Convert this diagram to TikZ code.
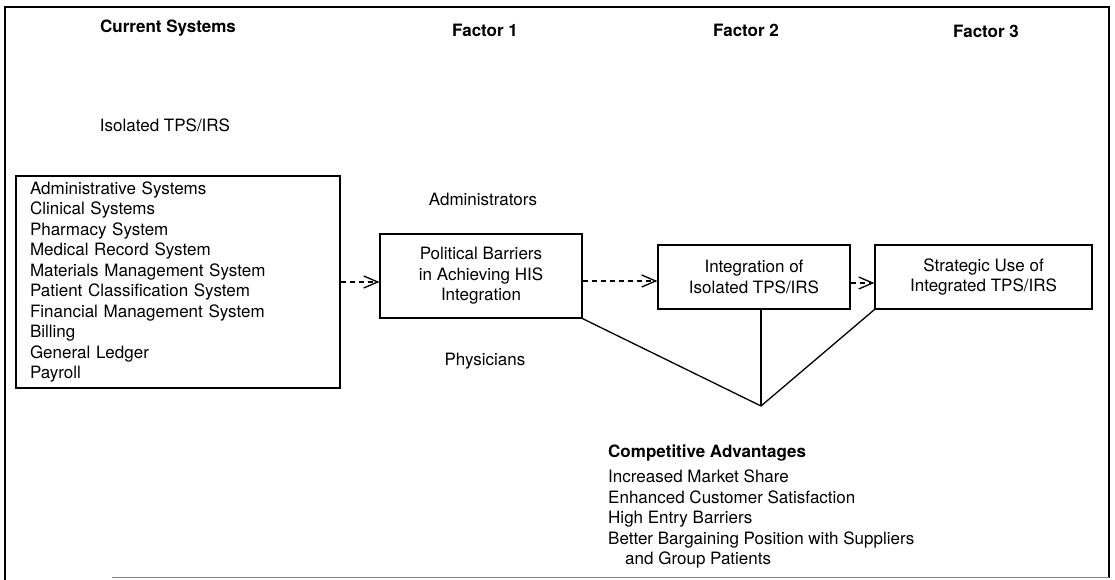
\documentclass[tikz,border=0pt]{standalone}
\usepackage{fontspec}
\setmainfont{TeX Gyre Heros}
\usetikzlibrary{arrows.meta}
\begin{document}
\begin{tikzpicture}[x=1pt,y=-1pt,
  every node/.style={font=\fontsize{17}{20.5}\selectfont, inner sep=0pt},
  hdr/.style={font=\fontsize{17}{20.5}\selectfont\bfseries},
  box/.style={draw, line width=1.3pt, align=center},
  flow/.style={line width=1.3pt, dash pattern=on 5pt off 4pt, -{Straight Barb[length=14pt,width=12pt]}},
  link/.style={line width=1.3pt}]
\useasboundingbox (0,0) rectangle (1115,580);
% frame
\draw[line width=2pt] (1109,578) -- (1109,7) -- (5,7) -- (5,580);
\draw[line width=1pt, gray] (112,577) -- (1109,577);
% headers
\node[hdr] (hcur) at (168,28) {Current Systems};
\node[hdr] (hf1) at (485,30) {Factor 1};
\node[hdr] (hf2) at (746,30) {Factor 2};
\node[hdr] (hf3) at (986,31) {Factor 3};
% labels
\node (iso) at (165,125) {Isolated TPS/IRS};
\node (adm) at (483,199) {Administrators};
\node (phy) at (485,361) {Physicians};
% boxes
\node[box, align=left, text width=296pt, inner xsep=14pt, minimum height=212pt] (cur) at (178,282)
  {Administrative Systems\\Clinical Systems\\Pharmacy System\\Medical Record System\\Materials Management System\\Patient Classification System\\Financial Management System\\Billing\\General Ledger\\Payroll};
\node[box, minimum width=202pt, minimum height=84pt] (pol) at (481,276)
  {Political Barriers\\in Achieving HIS\\Integration};
\node[box, minimum width=192pt, minimum height=64pt] (int) at (754,277)
  {Integration of\\Isolated TPS/IRS};
\node[box, minimum width=217pt, minimum height=64pt] (str) at (983.5,277)
  {Strategic Use of\\Integrated TPS/IRS};
% arrows
\coordinate (a1) at ([yshift=-5pt]pol.east);
\coordinate (a2) at ([yshift=-6pt]int.east);
\draw[flow] (cur.east) -- (cur.east -| pol.west);
\draw[flow] (a1) -- (a1 -| int.west);
\draw[flow] (a2) -- (a2 -| str.west);
% convergence
\coordinate (v) at (761,406);
\draw[link] (pol.south east) -- (v) -- (str.south west);
\draw[link] (int.south -| v) -- (v);
% competitive advantages
\node[hdr, anchor=west] (cat) at (608,453) {Competitive Advantages};
\node[anchor=west, align=left] (cal) at (608,519)
  {Increased Market Share\\Enhanced Customer Satisfaction\\High Entry Barriers\\Better Bargaining Position with Suppliers\\\hspace*{17pt}and Group Patients};
\end{tikzpicture}
\end{document}
